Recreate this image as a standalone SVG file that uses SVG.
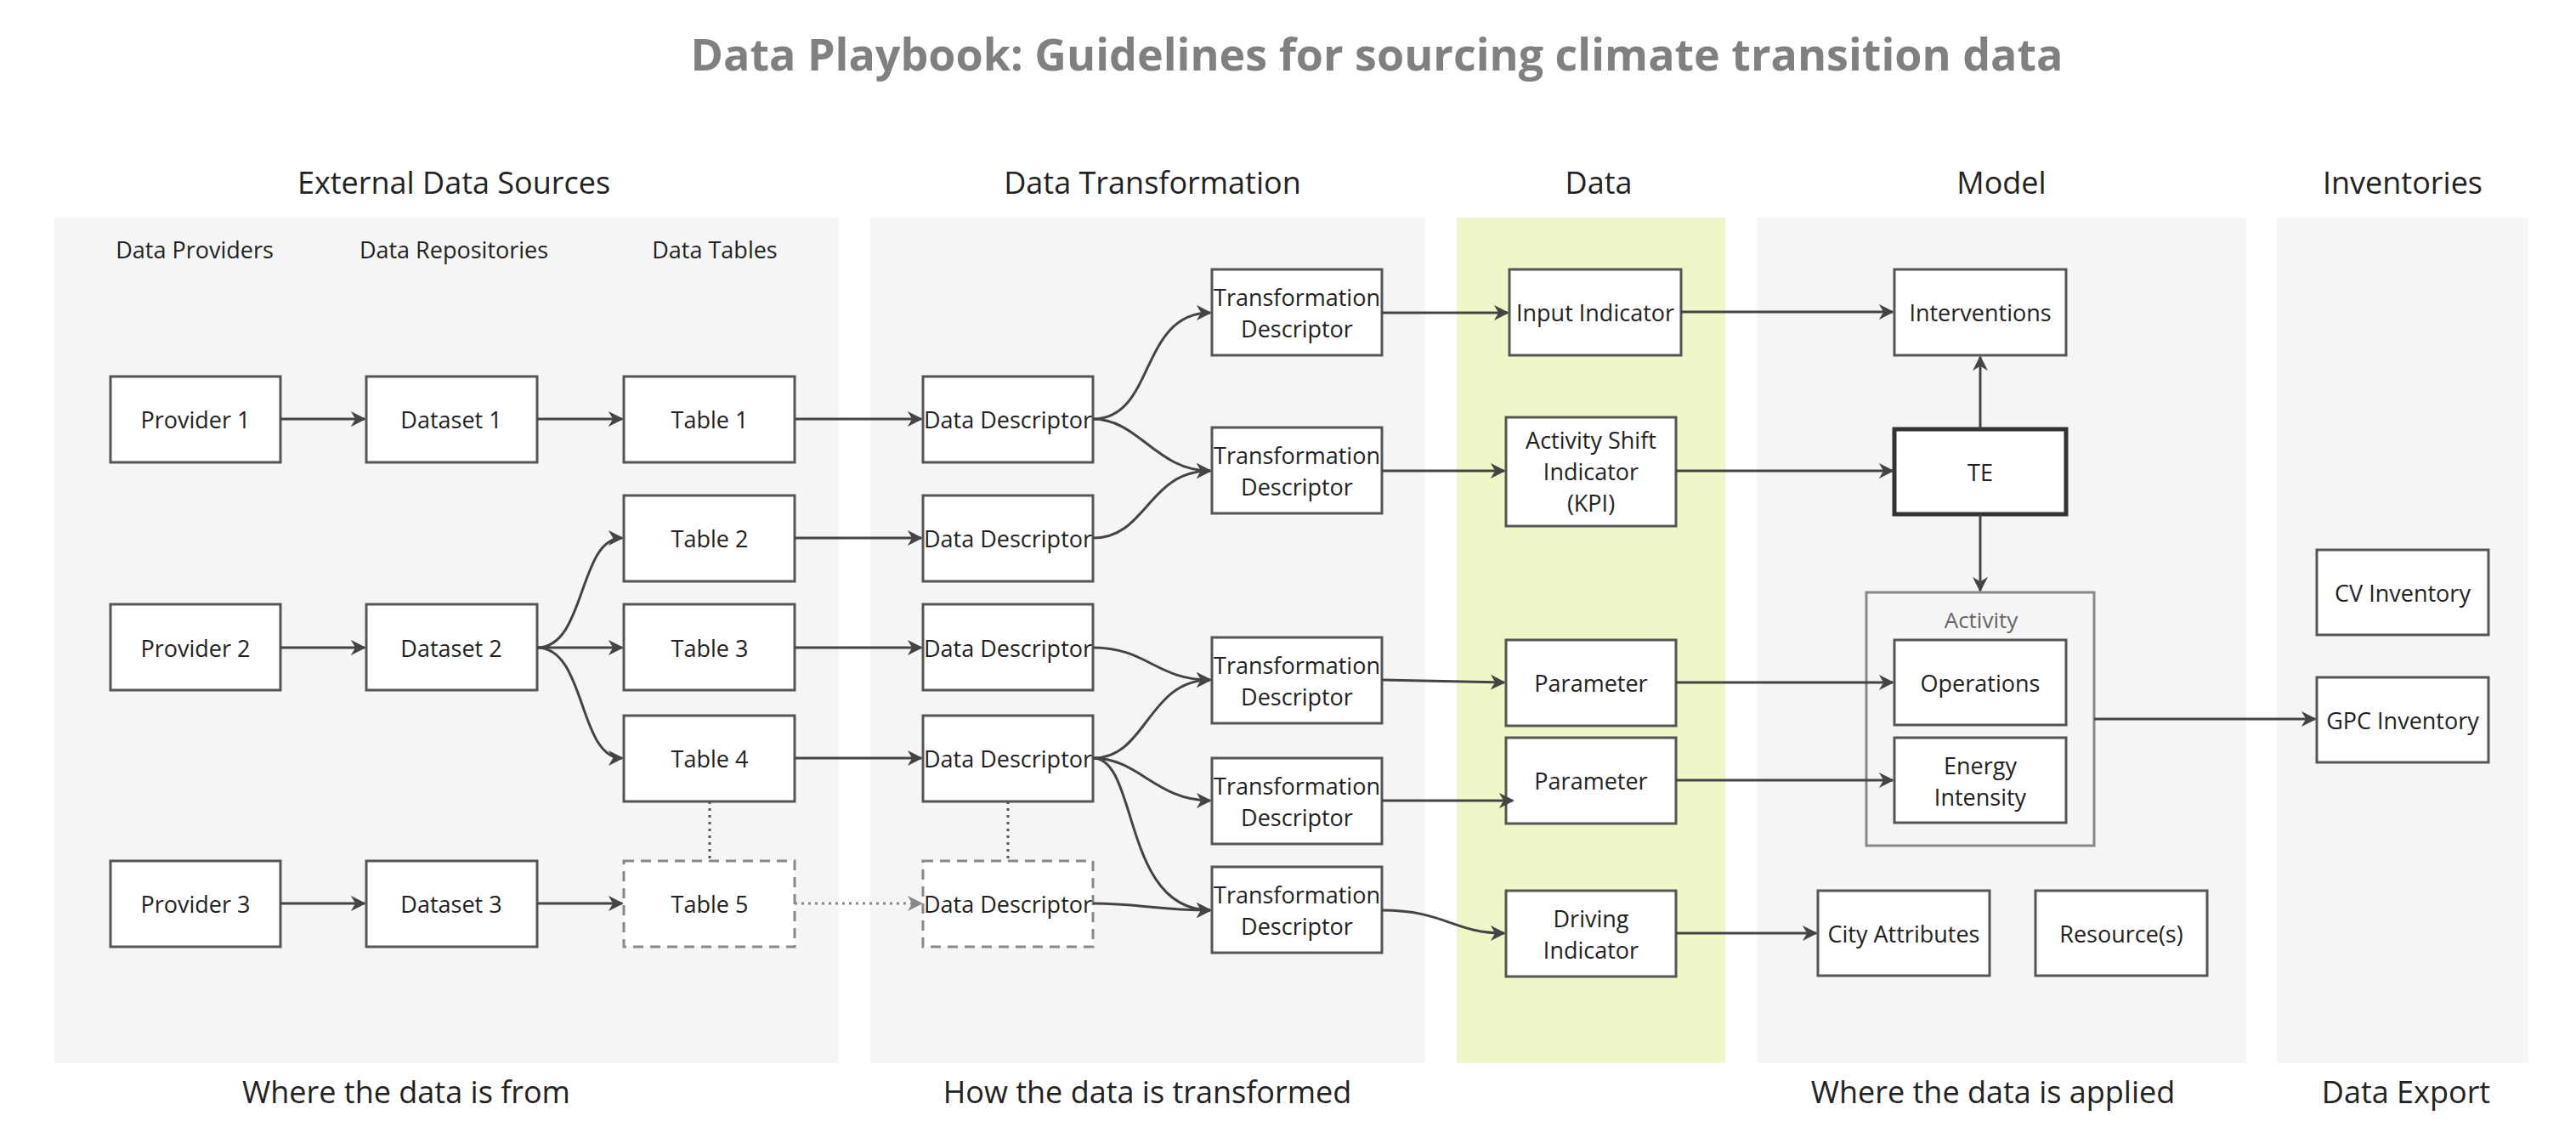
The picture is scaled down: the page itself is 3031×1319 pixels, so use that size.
<svg xmlns="http://www.w3.org/2000/svg" width="3031" height="1319" viewBox="0 0 3031 1319">
<style>
text{font-family:"Open Sans","Noto Sans",sans-serif;fill:#222;text-anchor:middle;dominant-baseline:central}
.n rect{fill:#fff;stroke:#555;stroke-width:3}
.n text{font-size:27px}
.h{font-size:36px}
.s{font-size:27px}
.c path{fill:none;stroke:#444;stroke-width:3;marker-end:url(#a)}
.c path.d{stroke:#888;stroke-dasharray:3 5;marker-end:url(#g)}
.c path.v{stroke:#555;stroke-dasharray:3 5;marker-end:none}
.p{fill:#f5f5f5}
</style>
<defs>
<marker id="a" viewBox="0 0 10 10" refX="9" refY="5" markerWidth="6" markerHeight="6" markerUnits="strokeWidth" orient="auto"><path d="M0,0L10,5L0,10L3,5z" fill="#444"/></marker>
<marker id="g" viewBox="0 0 10 10" refX="9" refY="5" markerWidth="6" markerHeight="6" markerUnits="strokeWidth" orient="auto"><path d="M0,0L10,5L0,10L3,5z" fill="#888"/></marker>
</defs>
<rect width="3031" height="1319" fill="#fff"/>
<text x="1620" y="62" style="font-size:52px;font-weight:bold;fill:#808080">Data Playbook: Guidelines for sourcing climate transition data</text>
<g id="panels">
<rect class="p" x="64" y="256" width="923" height="995"/>
<rect class="p" x="1024" y="256" width="653" height="995"/>
<rect x="1714" y="256" width="316" height="995" fill="#eef7c8"/>
<rect class="p" x="2067" y="256" width="576" height="995"/>
<rect class="p" x="2679" y="256" width="296" height="995"/>
<text class="h" x="534" y="214">External Data Sources</text>
<text class="h" x="1356" y="214">Data Transformation</text>
<text class="h" x="1881" y="214">Data</text>
<text class="h" x="2355" y="214">Model</text>
<text class="h" x="2827" y="214">Inventories</text>
<text class="h" x="478" y="1284">Where the data is from</text>
<text class="h" x="1350" y="1284">How the data is transformed</text>
<text class="h" x="2345" y="1284">Where the data is applied</text>
<text class="h" x="2831" y="1284">Data Export</text>
<text class="s" x="229" y="293">Data Providers</text>
<text class="s" x="534" y="293">Data Repositories</text>
<text class="s" x="841" y="293">Data Tables</text>
</g>
<g id="activity"><rect x="2196" y="697" width="268" height="298" fill="none" stroke="#888" stroke-width="3"/><text x="2331" y="729" style="font-size:26px;fill:#666">Activity</text></g>
<g id="p1" class="n"><rect x="130" y="443" width="200" height="101"/><text x="230" y="493">Provider 1</text></g>
<g id="p2" class="n"><rect x="130" y="711" width="200" height="101"/><text x="230" y="762">Provider 2</text></g>
<g id="p3" class="n"><rect x="130" y="1013" width="200" height="101"/><text x="230" y="1063">Provider 3</text></g>
<g id="d1" class="n"><rect x="431" y="443" width="201" height="101"/><text x="531" y="493">Dataset 1</text></g>
<g id="d2" class="n"><rect x="431" y="711" width="201" height="101"/><text x="531" y="762">Dataset 2</text></g>
<g id="d3" class="n"><rect x="431" y="1013" width="201" height="101"/><text x="531" y="1063">Dataset 3</text></g>
<g id="t1" class="n"><rect x="734" y="443" width="201" height="101"/><text x="835" y="493">Table 1</text></g>
<g id="t2" class="n"><rect x="734" y="583" width="201" height="101"/><text x="835" y="633">Table 2</text></g>
<g id="t3" class="n"><rect x="734" y="711" width="201" height="101"/><text x="835" y="762">Table 3</text></g>
<g id="t4" class="n"><rect x="734" y="842" width="201" height="101"/><text x="835" y="892">Table 4</text></g>
<g id="t5" class="n"><rect x="734" y="1013" width="201" height="101" style="stroke:#888;stroke-dasharray:12 8"/><text x="835" y="1063">Table 5</text></g>
<g id="dd1" class="n"><rect x="1086" y="443" width="200" height="101"/><text x="1186" y="493">Data Descriptor</text></g>
<g id="dd2" class="n"><rect x="1086" y="583" width="200" height="101"/><text x="1186" y="633">Data Descriptor</text></g>
<g id="dd3" class="n"><rect x="1086" y="711" width="200" height="101"/><text x="1186" y="762">Data Descriptor</text></g>
<g id="dd4" class="n"><rect x="1086" y="842" width="200" height="101"/><text x="1186" y="892">Data Descriptor</text></g>
<g id="dd5" class="n"><rect x="1086" y="1013" width="200" height="101" style="stroke:#888;stroke-dasharray:12 8"/><text x="1186" y="1063">Data Descriptor</text></g>
<g id="td1" class="n"><rect x="1426" y="317" width="200" height="101"/><text x="1526" y="349">Transformation</text><text x="1526" y="386">Descriptor</text></g>
<g id="td2" class="n"><rect x="1426" y="503" width="200" height="101"/><text x="1526" y="535">Transformation</text><text x="1526" y="572">Descriptor</text></g>
<g id="td3" class="n"><rect x="1426" y="750" width="200" height="101"/><text x="1526" y="782">Transformation</text><text x="1526" y="819">Descriptor</text></g>
<g id="td4" class="n"><rect x="1426" y="892" width="200" height="101"/><text x="1526" y="924">Transformation</text><text x="1526" y="961">Descriptor</text></g>
<g id="td5" class="n"><rect x="1426" y="1020" width="200" height="101"/><text x="1526" y="1052">Transformation</text><text x="1526" y="1089">Descriptor</text></g>
<g id="ii" class="n"><rect x="1776" y="317" width="202" height="101"/><text x="1877" y="367">Input Indicator</text></g>
<g id="asi" class="n"><rect x="1772" y="491" width="200" height="128"/><text x="1872" y="517">Activity Shift</text><text x="1872" y="554">Indicator</text><text x="1872" y="591">(KPI)</text></g>
<g id="par1" class="n"><rect x="1772" y="753" width="200" height="101"/><text x="1872" y="803">Parameter</text></g>
<g id="par2" class="n"><rect x="1772" y="868" width="200" height="101"/><text x="1872" y="918">Parameter</text></g>
<g id="di" class="n"><rect x="1772" y="1048" width="200" height="101"/><text x="1872" y="1080">Driving</text><text x="1872" y="1117">Indicator</text></g>
<g id="int" class="n"><rect x="2229" y="317" width="202" height="101"/><text x="2330" y="367">Interventions</text></g>
<g id="te" class="n"><rect x="2229" y="505" width="202" height="100" style="stroke:#333;stroke-width:5"/><text x="2330" y="555">TE</text></g>
<g id="ops" class="n"><rect x="2229" y="753" width="202" height="100"/><text x="2330" y="803">Operations</text></g>
<g id="ei" class="n"><rect x="2229" y="868" width="202" height="100"/><text x="2330" y="900">Energy</text><text x="2330" y="937">Intensity</text></g>
<g id="ca" class="n"><rect x="2139" y="1048" width="202" height="100"/><text x="2240" y="1098">City Attributes</text></g>
<g id="res" class="n"><rect x="2395" y="1048" width="202" height="100"/><text x="2496" y="1098">Resource(s)</text></g>
<g id="cv" class="n"><rect x="2726" y="647" width="202" height="100"/><text x="2827" y="697">CV Inventory</text></g>
<g id="gpc" class="n"><rect x="2726" y="797" width="202" height="100"/><text x="2827" y="847">GPC Inventory</text></g>
<g id="connectors" class="c">
<path d="M330,493H429"/><path d="M632,493H732"/>
<path d="M330,762H429"/><path d="M330,1063H429"/><path d="M632,1063H732"/>
<path d="M632,762H732"/>
<path d="M632,762C690,762 680,633 732,633"/>
<path d="M632,762C690,762 680,892 732,892"/>
<path d="M935,493H1084"/><path d="M935,633H1084"/><path d="M935,762H1084"/><path d="M935,892H1084"/>
<path class="d" d="M935,1063H1084"/>
<path class="v" d="M835,943V1013"/><path class="v" d="M1186,943V1013"/>
<path d="M1286,493C1360,493 1340,368 1424,368"/>
<path d="M1286,493C1340,493 1360,554 1424,554"/>
<path d="M1286,633C1350,633 1350,554 1424,554"/>
<path d="M1286,762C1350,762 1360,800 1424,800"/>
<path d="M1286,892C1350,892 1350,800 1424,800"/>
<path d="M1286,892C1340,892 1360,942 1424,942"/>
<path d="M1286,892C1340,892 1320,1071 1424,1071"/>
<path d="M1286,1063C1340,1063 1360,1071 1424,1071"/>
<path d="M1626,368H1774"/><path d="M1626,554H1770"/><path d="M1626,800L1770,803"/>
<path d="M1626,942H1780"/>
<path d="M1626,1071C1700,1071 1710,1098 1770,1098"/>
<path d="M1978,367H2227"/><path d="M1972,554H2227"/><path d="M1972,803H2227"/><path d="M1972,918H2227"/>
<path d="M1972,1098H2137"/>
<path d="M2330,505V420"/><path d="M2330,605V695"/>
<path d="M2464,846H2724"/>
</g>
</svg>
